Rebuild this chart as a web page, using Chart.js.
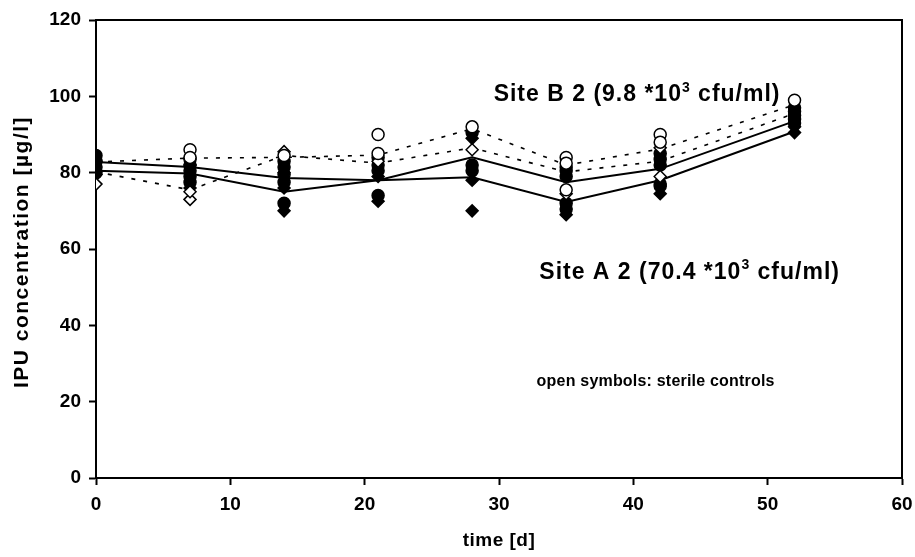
<!DOCTYPE html>
<html>
<head>
<meta charset="utf-8">
<script src="https://cdn.jsdelivr.net/npm/chart.js@4"></script>
<style>
html,body{margin:0;padding:0;background:#fff;}
#wrap{width:915px;height:557px;position:relative;}
</style>
</head>
<body>
<div id="wrap"><canvas id="c" width="915" height="557"></canvas></div>
<script>
// ---- data ----
const days = [0, 7, 14, 21, 28, 35, 42, 52];
const siteBMean = [82.8, 81.5, 78.6, 78.0, 84.0, 77.5, 81.0, 93.5];
const siteAMean = [80.5, 79.8, 75.0, 78.0, 78.8, 72.3, 78.0, 90.8];
const siteBCtrl = [82.8, 83.8, 84.0, 84.6, 91.5, 82.0, 86.2, 97.8];
const siteACtrl = [80.2, 75.5, 84.5, 82.5, 86.5, 80.2, 83.0, 95.5];

const filledCircleVals = [
  [84.5, 83, 81.5, 80],
  [83.5, 82, 80.5, 79, 77.5],
  [83, 81.5, 79.5, 77.5, 72],
  [84, 82, 80.5, 74],
  [90.5, 82, 80.5],
  [81.5, 80.5, 79, 72, 70.5],
  [85, 83.5, 82, 77, 76.5],
  [97, 96, 95, 94, 93]
];
const filledDiamondVals = [
  [83, 79.5],
  [82, 76],
  [80, 76, 70],
  [79, 72.5],
  [89, 78, 70],
  [69],
  [74.5],
  [92, 90.5]
];
const openCircleVals = [
  [],
  [86, 84],
  [84.5],
  [90, 85],
  [92],
  [84, 82.5, 75.5],
  [90, 88],
  [99]
];
const openDiamondVals = [
  [77],
  [73, 75],
  [85.5],
  [83],
  [86],
  [74.5],
  [86.5, 79],
  []
];

const yTicks = [0, 20, 40, 60, 80, 100, 120];
const xTicks = [0, 10, 20, 30, 40, 50, 60];
const yTitle = 'IPU concentration [\u00b5g/l]';
const xTitle = 'time [d]';

function pts(vals) {
  const out = [];
  vals.forEach((arr, i) => arr.forEach(v => out.push({x: days[i], y: v})));
  return out;
}
function line(vals) { return vals.map((v, i) => ({x: days[i], y: v})); }

const FONT = "'Liberation Sans', Arial, sans-serif";

const framePlugin = {
  id: 'frame',
  afterDatasetsDraw(chart) {
    const {ctx, chartArea: a} = chart;
    ctx.save();
    ctx.strokeStyle = '#000';
    ctx.lineWidth = 2;
    ctx.beginPath();
    ctx.moveTo(a.left, a.top);
    ctx.lineTo(a.right, a.top);
    ctx.lineTo(a.right, a.bottom);
    ctx.stroke();
    ctx.restore();
  }
};

const textPlugin = {
  id: 'annot',
  afterDraw(chart) {
    const {ctx, scales: {x, y}} = chart;
    ctx.save();
    ctx.fillStyle = '#000';
    ctx.textBaseline = 'alphabetic';
    function sup(parts, px, py, size, sp) {
      let cx = px;
      ctx.letterSpacing = sp + 'px';
      parts.forEach(p => {
        if (p.sup) {
          ctx.font = 'bold ' + Math.round(size * 0.62) + 'px ' + FONT;
          ctx.fillText(p.t, cx, py - size * 0.42);
          cx += ctx.measureText(p.t).width;
        } else {
          ctx.font = 'bold ' + size + 'px ' + FONT;
          ctx.fillText(p.t, cx, py);
          cx += ctx.measureText(p.t).width;
        }
      });
    }
    sup([{t: 'Site B 2 (9.8 *10'}, {t: '3', sup: true}, {t: ' cfu/ml)'}], x.getPixelForValue(29.6), y.getPixelForValue(98.7), 23, 1);
    sup([{t: 'Site A 2 (70.4 *10'}, {t: '3', sup: true}, {t: ' cfu/ml)'}], x.getPixelForValue(33.0), y.getPixelForValue(52.1), 23, 1);
    ctx.letterSpacing = '0.2px';
    ctx.font = 'bold 16px ' + FONT;
    ctx.fillText('open symbols: sterile controls', x.getPixelForValue(32.8), y.getPixelForValue(24.1));

    // axis titles
    ctx.letterSpacing = '1.5px';
    ctx.font = 'bold 21px ' + FONT;
    ctx.textAlign = 'center';
    ctx.textBaseline = 'middle';
    ctx.save();
    ctx.translate(22, (y.top + y.bottom) / 2 + 3);
    ctx.rotate(-Math.PI / 2);
    ctx.fillText(yTitle, 0, 0);
    ctx.restore();
    ctx.letterSpacing = '0.5px';
    ctx.font = 'bold 19px ' + FONT;
    ctx.fillText(xTitle, (x.left + x.right) / 2, 541);
    ctx.restore();
  }
};

const lineDs = (data, dashed) => ({
  type: 'line', data, borderColor: '#000', borderWidth: dashed ? 1.6 : 2,
  borderDash: dashed ? [4, 8] : [], pointRadius: 0, fill: false, tension: 0, order: 2
});
const markDs = (data, style, filled, r) => ({
  type: 'scatter', data, pointStyle: style, pointRadius: r, pointHoverRadius: r,
  backgroundColor: filled ? '#000' : '#fff', borderColor: '#000', borderWidth: 1.5, order: 1
});

new Chart(document.getElementById('c'), {
  data: {
    datasets: [
      lineDs(line(siteBCtrl), true),
      lineDs(line(siteACtrl), true),
      lineDs(line(siteBMean), false),
      lineDs(line(siteAMean), false),
      markDs(pts(openCircleVals), 'circle', false, 6),
      markDs(pts(openDiamondVals), 'rectRot', false, 6),
      markDs(pts(filledCircleVals), 'circle', true, 6),
      markDs(pts(filledDiamondVals), 'rectRot', true, 6)
    ]
  },
  options: {
    responsive: false,
    animation: false,
    events: [],
    layout: {padding: {left: 0, right: 0, top: 20, bottom: 0}},
    plugins: {legend: {display: false}, tooltip: {enabled: false}},
    scales: {
      x: {
        type: 'linear', min: 0, max: 60,
        afterBuildTicks: s => { s.ticks = xTicks.map(v => ({value: v})); },
        afterFit: s => { s.height = 79; s.paddingRight = 13; s.paddingLeft = 0; },
        border: {display: true, color: '#000', width: 2},
        grid: {display: true, drawOnChartArea: false, drawTicks: true, tickLength: 7, tickWidth: 2, tickColor: '#000', color: '#000'},
        ticks: {color: '#000', font: {family: FONT, size: 19, weight: 'bold'}, padding: 8, maxRotation: 0},
        title: {display: false}
      },
      y: {
        type: 'linear', min: 0, max: 120,
        afterBuildTicks: s => { s.ticks = yTicks.map(v => ({value: v})); },
        afterFit: s => { s.width = 96; },
        border: {display: true, color: '#000', width: 2},
        grid: {display: true, drawOnChartArea: false, drawTicks: true, tickLength: 7, tickWidth: 2, tickColor: '#000', color: '#000'},
        ticks: {color: '#000', font: {family: FONT, size: 19, weight: 'bold'}, padding: 8},
        title: {display: false}
      }
    }
  },
  plugins: [framePlugin, textPlugin]
});
</script>
</body>
</html>
